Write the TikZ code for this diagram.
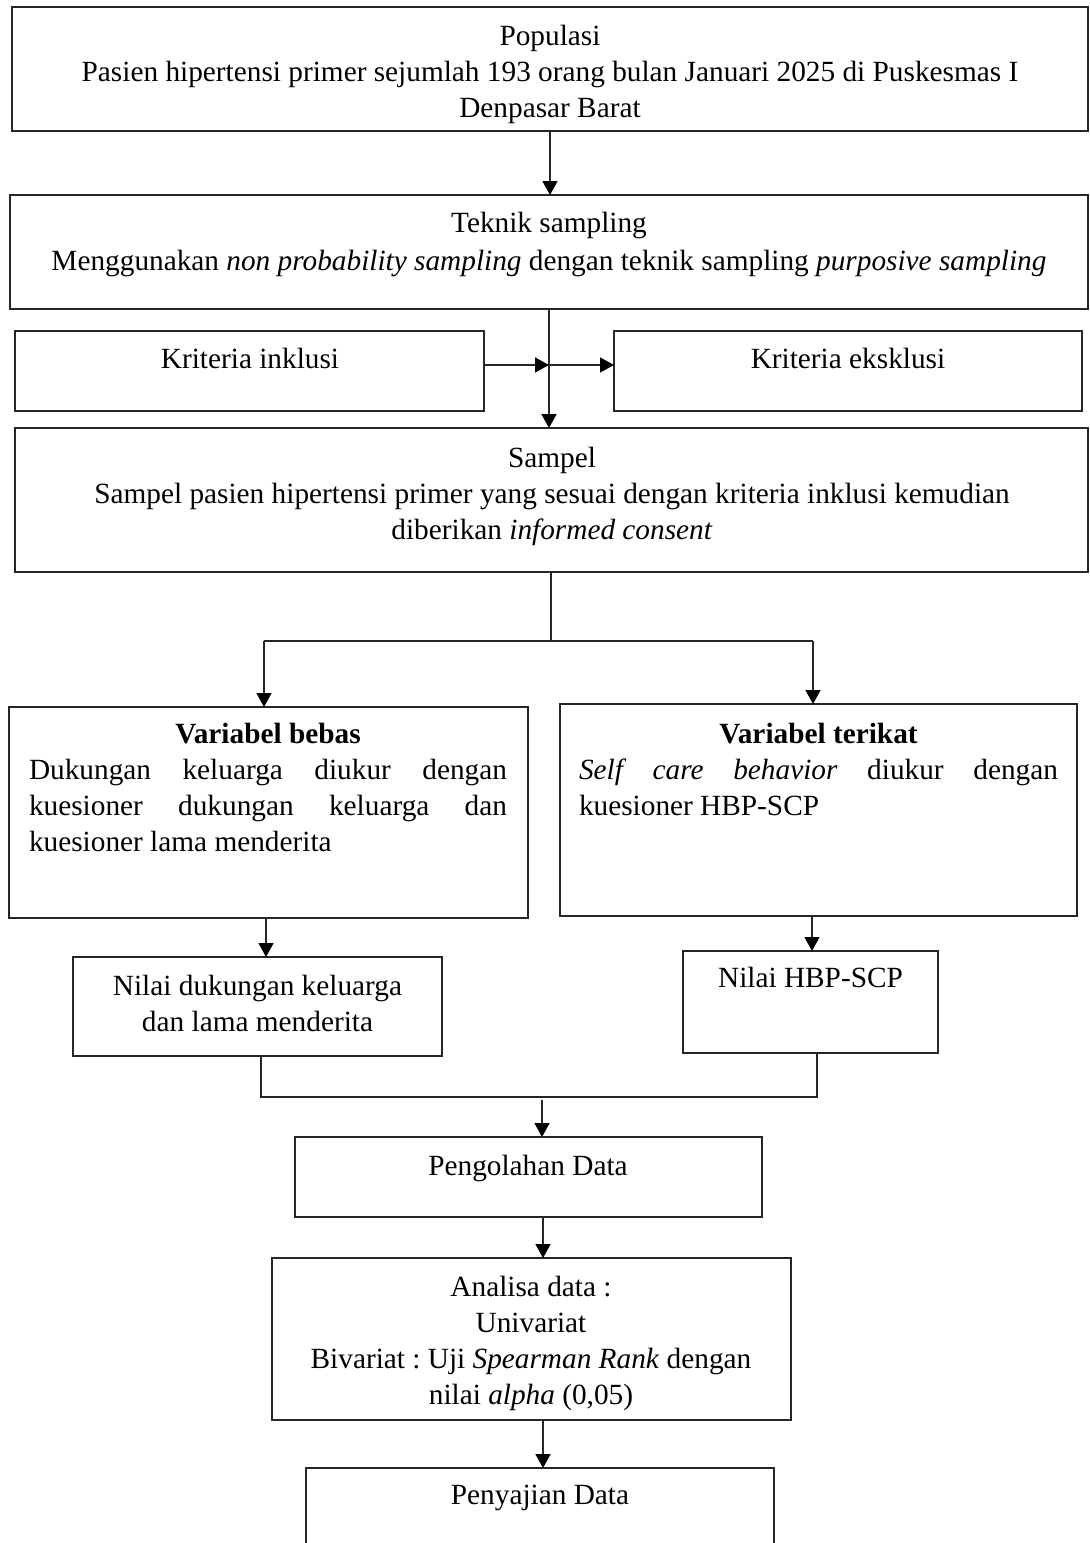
\documentclass[tikz,border=0pt]{standalone}
\usepackage{fontspec}
\setmainfont{Liberation Serif}
\usetikzlibrary{arrows.meta}
\begin{document}
\frenchspacing
\begin{tikzpicture}[x=1pt,y=-1pt,
  box/.style={draw=black!85, line width=1.8pt, inner sep=0pt, outer sep=0pt, anchor=north west},
  txt/.style={inner sep=0pt, outer sep=0pt, anchor=north, align=center, font=\fontsize{29.3}{36}\selectfont},
  link/.style={draw=black!85, line width=1.5pt},
  arr/.style={draw=black!85, line width=1.5pt, -{Triangle[length=14pt,width=15pt,fill=black,color=black]}}]
\useasboundingbox (0,0) rectangle (1090,1543);
\clip (0,0) rectangle (1090,1543);
% boxes and texts
\node[box, minimum width=1076pt, minimum height=124pt] (pop) at (12,7) {};
\node[txt] (popt) at (550,25) {Populasi\\Pasien hipertensi primer sejumlah 193 orang bulan Januari 2025 di Puskesmas I\\Denpasar Barat};
\node[box, minimum width=1078pt, minimum height=114pt] (tek) at (10,195) {};
\node[txt] (tekt) at (549,212) {Teknik sampling\\[2pt]Menggunakan \textit{non probability sampling} dengan teknik sampling \textit{purposive sampling}};
\node[box, minimum width=469pt, minimum height=80pt] (ink) at (15,331) {};
\node[txt] (inkt) at (250,348) {Kriteria inklusi};
\node[box, minimum width=468pt, minimum height=80pt] (eks) at (614,331) {};
\node[txt] (ekst) at (848,348) {Kriteria eksklusi};
\node[box, minimum width=1073pt, minimum height=144pt] (sam) at (15,428) {};
\node[txt] (samt) at (552,447) {Sampel\\Sampel pasien hipertensi primer yang sesuai dengan kriteria inklusi kemudian\\diberikan \textit{informed consent}};
\node[box, minimum width=519pt, minimum height=211pt] (beb) at (9,707) {};
\node[txt, anchor=north west, align=left] (bebt) at (29,723) {\makebox[478pt][c]{\bfseries Variabel bebas}\\\makebox[478pt][s]{Dukungan keluarga diukur dengan}\\\makebox[478pt][s]{kuesioner dukungan keluarga dan}\\kuesioner lama menderita};
\node[box, minimum width=517pt, minimum height=212pt] (ter) at (560,704) {};
\node[txt, anchor=north west, align=left] (tert) at (579,723) {\makebox[479pt][c]{\bfseries Variabel terikat}\\\makebox[479pt][s]{\textit{Self care behavior} diukur dengan}\\kuesioner HBP-SCP};
\node[box, minimum width=369pt, minimum height=99pt] (n1) at (73,957) {};
\node[txt] (n1t) at (257.5,975) {Nilai dukungan keluarga\\dan lama menderita};
\node[box, minimum width=255pt, minimum height=102pt] (n2) at (683,951) {};
\node[txt] (n2t) at (810.5,967) {Nilai HBP-SCP};
\node[box, minimum width=467pt, minimum height=80pt] (peng) at (295,1137) {};
\node[txt] (pengt) at (528,1155) {Pengolahan Data};
\node[box, minimum width=519pt, minimum height=162pt] (anal) at (272,1258) {};
\node[txt] (analt) at (531,1276) {Analisa data :\\Univariat\\Bivariat : Uji \textit{Spearman Rank} dengan\\nilai \textit{alpha} (0,05)};
\node[box, minimum width=468pt, minimum height=120pt] (peny) at (306,1468) {};
\node[txt] (penyt) at (540,1485) {Penyajian Data};
% connectors
\draw[arr] (pop.south) -- (pop.south |- tek.north);
\draw[arr] (tek.south) -- (tek.south |- sam.north);
\coordinate (jk) at (549,365);
\draw[arr] (ink.east |- jk) -- (jk);
\draw[arr] (jk) -- (eks.west |- jk);
\coordinate (js) at (551,641);
\coordinate (jl) at (264,641);
\coordinate (jr) at (813,641);
\draw[link] (sam.south -| js) -- (js);
\draw[link] (jl) -- (jr);
\draw[arr] (jl) -- (jl |- beb.north);
\draw[arr] (jr) -- (jr |- ter.north);
\coordinate (a1) at (266,0);
\coordinate (a2) at (812,0);
\draw[arr] (beb.south -| a1) -- (n1.north -| a1);
\draw[arr] (ter.south -| a2) -- (n2.north -| a2);
\coordinate (jbl) at (261,1097);
\coordinate (jbr) at (817,1097);
\coordinate (jb) at (542,1100);
\draw[link] (n1.south -| jbl) -- (jbl) -- (jbr) -- (n2.south -| jbr);
\draw[arr] (jb) -- (peng.north -| jb);
\coordinate (a3) at (543,0);
\draw[arr] (peng.south -| a3) -- (anal.north -| a3);
\draw[arr] (anal.south -| a3) -- (peny.north -| a3);
\end{tikzpicture}
\end{document}
